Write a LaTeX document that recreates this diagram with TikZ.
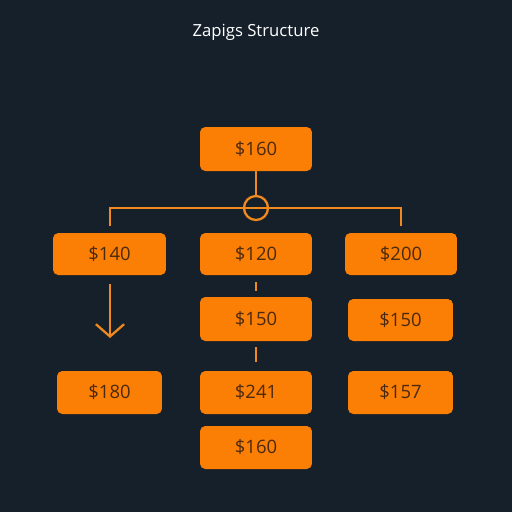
\documentclass[tikz,border=0pt]{standalone}
\usepackage{fontspec}
\setmainfont{Open Sans}
\usetikzlibrary{arrows.meta}
\definecolor{bg}{HTML}{16202A}
\definecolor{boxor}{HTML}{FB7E05}
\definecolor{lineor}{HTML}{F08A1E}
\definecolor{boxtxt}{HTML}{4A2A10}
\tikzset{
  pricebox/.style={fill=boxor, draw=none, rounded corners=3pt, text=boxtxt,
    font=\fontsize{10.5pt}{12pt}\selectfont, inner sep=0pt, anchor=center},
  link/.style={draw=lineor, line width=1.3pt},
}
\begin{document}
\begin{tikzpicture}[x=0.02cm, y=-0.02cm]
\fill[bg] (0,0) rectangle (512,512);
\useasboundingbox (0,0) rectangle (512,512);
\node[text=white, font=\fontsize{9.5pt}{11pt}\selectfont] (title) at (256,32) {Zapigs Structure};
% boxes
\node[pricebox, minimum width=2.24cm, minimum height=0.88cm] (top) at (256,149) {\$160};
\node[pricebox, minimum width=2.26cm, minimum height=0.84cm] (b140) at (109.5,254) {\$140};
\node[pricebox, minimum width=2.24cm, minimum height=0.84cm] (b120) at (256,254) {\$120};
\node[pricebox, minimum width=2.24cm, minimum height=0.84cm] (b200) at (401,254) {\$200};
\node[pricebox, minimum width=2.24cm, minimum height=0.88cm] (m150) at (256,319) {\$150};
\node[pricebox, minimum width=2.10cm, minimum height=0.84cm] (r150) at (400.5,320) {\$150};
\node[pricebox, minimum width=2.10cm, minimum height=0.86cm] (b180) at (109.5,392.5) {\$180};
\node[pricebox, minimum width=2.24cm, minimum height=0.86cm] (b241) at (256,392.5) {\$241};
\node[pricebox, minimum width=2.10cm, minimum height=0.86cm] (b157) at (400.5,392.5) {\$157};
\node[pricebox, minimum width=2.24cm, minimum height=0.86cm] (bot) at (256,447.5) {\$160};
% junction
\node[draw=lineor, line width=1.3pt, circle, minimum size=0.48cm, inner sep=0pt] (junc) at (256,208) {};
\coordinate (hl) at (110,208);
\coordinate (hr) at (401,208);
\coordinate (tl) at (110,226);
\coordinate (tr) at (401,226);
\draw[link] (top.south) -- (junc.north);
\draw[link] (tl) -- (hl) -- (hr) -- (tr);
% arrow
\coordinate (a1) at (110,284);
\coordinate (a2) at (110,338);
\draw[link, -{Straight Barb[length=7pt, width=16pt, line width=1.3pt]}] (a1) -- (a2);
% dashes
\coordinate (d1) at (256,282);
\coordinate (d2) at (256,291);
\coordinate (d3) at (256,347);
\coordinate (d4) at (256,362);
\draw[link] (d1) -- (d2);
\draw[link] (d3) -- (d4);
\end{tikzpicture}
\end{document}
